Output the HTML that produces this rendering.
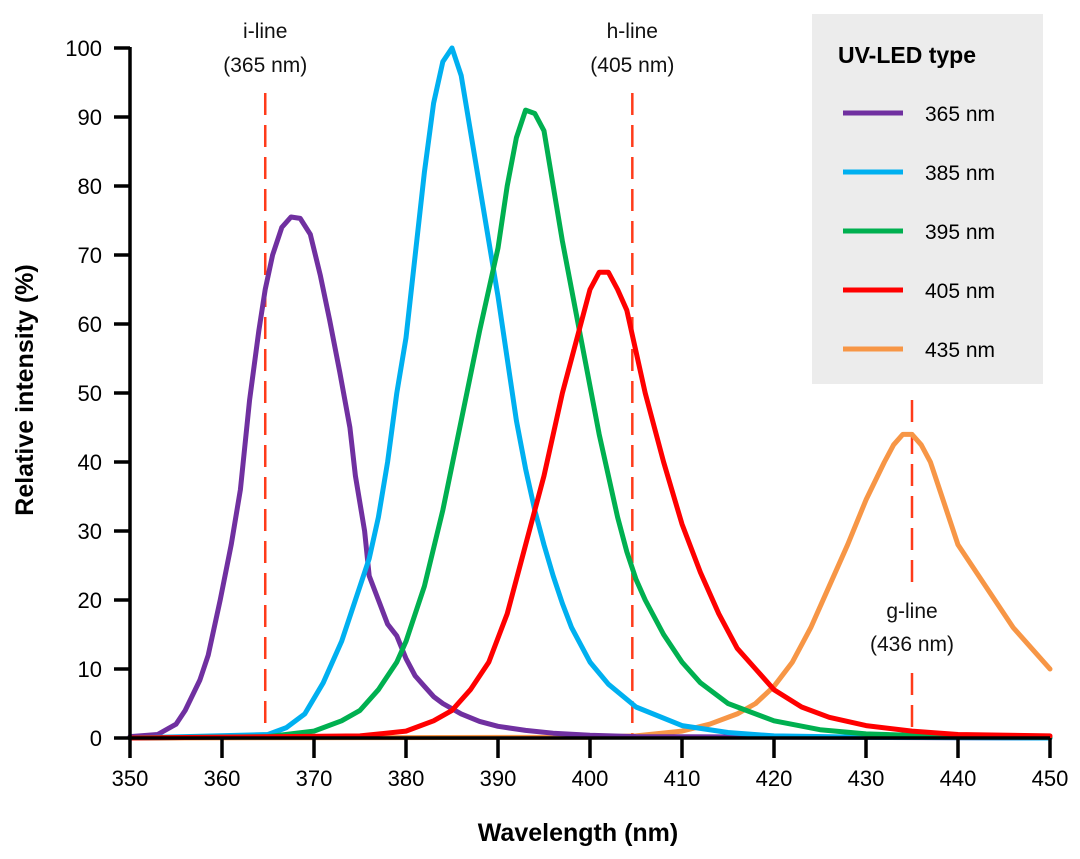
<!DOCTYPE html>
<html><head><meta charset="utf-8"><style>
html,body{margin:0;padding:0;background:#fff;}
svg{display:block;font-family:"Liberation Sans",sans-serif;}
</style></head><body>
<svg id="chart" width="1080" height="859" viewBox="0 0 1080 859" xmlns="http://www.w3.org/2000/svg">
<rect x="812" y="14" width="231" height="370" fill="#ececec"/>
<g id="grid"></g>
<g id="refs"></g>
<g id="series"></g>
<g id="axes"></g>
<g id="legend"></g>
<text x="578" y="841" text-anchor="middle" font-size="25" font-weight="bold">Wavelength (nm)</text>
<text transform="translate(33,390) rotate(-90)" text-anchor="middle" font-size="25" font-weight="bold">Relative intensity (%)</text>
</svg>
<script>
const xTicks=[350,360,370,380,390,400,410,420,430,440,450];
const yTicks=[0,10,20,30,40,50,60,70,80,90,100];
const seriesNames=["365 nm","385 nm","395 nm","405 nm","435 nm"];
const seriesColors=["#7030a0","#00b0f0","#00b050","#ff0000","#f79646"];
const wl365=[350,353,355,356,357.6,358.5,359.8,361,362,363,364,364.7,365.5,366.5,367.5,368.5,369.6,370.7,371.7,372.8,373.9,374.5,375,375.5,376,377,378,379,380,381,382,383,384,386,388,390,393,396,400,405,450];
const val365=[0.2,0.5,2,4,8.4,12,20,28,36,49,59,65,70,74,75.5,75.3,73,67,60.6,53,45,38,34,30,23.5,20,16.5,14.8,11.5,9,7.5,6,5,3.5,2.4,1.7,1.1,0.7,0.4,0.2,0];
const wl385=[350,365,367,369,371,373,374,375,376,377,378,379,380,381,382,383,384,385,386,387,388,389,390,391,392,393,394,395,396,397,398,400,402,405,410,415,420,430,450];
const val385=[0,0.5,1.5,3.5,8,14,18,22,26,32,40,50,58,70,82,92,98,100,96,88,80,72,64,55,46,39,33,28,23.5,19.5,16,11,7.8,4.5,1.8,0.8,0.3,0.1,0];
const wl395=[350,365,370,373,375,377,379,380,382,384,386,388,389,390,391,392,393,394,395,396,397,398,399,400,401,402,403,404,405,406,408,410,412,415,420,425,430,440,450];
const val395=[0,0.2,1,2.5,4,7,11,14,22,33,46,59,65,71,80,87,91,90.5,88,80,72,65,58,51,44,38,32,27,23,20,15,11,8,5,2.5,1.2,0.6,0.2,0.1];
const wl405=[350,375,380,383,385,387,389,391,393,395,397,399,400,401,402,403,404,405,406,408,410,412,414,416,418,420,423,426,430,435,440,450];
const val405=[0,0.3,1,2.5,4,7,11,18,28,38,50,60,65,67.5,67.5,65,62,56,50,40,31,24,18,13,10,7,4.5,3,1.8,1,0.5,0.3];
const wl435=[350,400,405,410,413,416,418,420,422,424,426,428,430,432,433,434,435,436,437,438,439,440,442,444,446,448,450];
const val435=[0,0.1,0.3,1,2,3.5,5,7.5,11,16,22,28,34.5,40,42.5,44,44,42.5,40,36,32,28,24,20,16,13,10];
const refLines=[364.7,404.6,435];
const NS="http://www.w3.org/2000/svg";
const X=v=>130+(v-350)*9.2;
const Y=v=>738-v*6.9;
function mk(tag,attrs,parent){const e=document.createElementNS(NS,tag);for(const k in attrs)e.setAttribute(k,attrs[k]);parent.appendChild(e);return e;}
const axes=document.getElementById('axes'),series=document.getElementById('series'),refs=document.getElementById('refs'),legend=document.getElementById('legend');
const red="#ff3b1a";
let r;
r=mk('line',{x1:X(refLines[0]),x2:X(refLines[0]),y1:93,y2:738,stroke:red,'stroke-width':2.5,'stroke-dasharray':'22,10'},refs);


r=mk('line',{x1:X(refLines[1]),x2:X(refLines[1]),y1:93,y2:738,stroke:red,'stroke-width':2.5,'stroke-dasharray':'22,10'},refs);


r=mk('line',{x1:X(refLines[2]),x2:X(refLines[2]),y1:400,y2:592,stroke:red,'stroke-width':2.5,'stroke-dasharray':'22,10'},refs);


r=mk('line',{x1:X(refLines[2]),x2:X(refLines[2]),y1:673,y2:738,stroke:red,'stroke-width':2.5,'stroke-dasharray':'22,10'},refs);


const lbls=[[X(refLines[0]),38,"i-line","i-line-label"],[X(refLines[0]),72,"(365 nm)","i-line-wavelength"],[X(refLines[1]),38,"h-line","h-line-label"],[X(refLines[1]),72,"(405 nm)","h-line-wavelength"],[X(refLines[2]),618,"g-line","g-line-label"],[X(refLines[2]),651,"(436 nm)","g-line-wavelength"]];
lbls.forEach(l=>{const t=mk('text',{x:l[0],y:l[1],'text-anchor':'middle','font-size':21,fill:'#111'},refs);t.textContent=l[2];

});
const data=[[wl365,val365],[wl385,val385],[wl395,val395],[wl405,val405],[wl435,val435]];
const order=[4,0,1,2,3];
order.forEach(i=>{const [w,v]=data[i];const pts=w.map((x,j)=>X(x).toFixed(1)+','+Y(v[j]).toFixed(1)).join(' ');
const p=mk('polyline',{points:pts,fill:'none',stroke:seriesColors[i],'stroke-width':5,'stroke-linejoin':'round','stroke-linecap':'round'},series);

});
let a=mk('line',{x1:130,x2:1050,y1:738,y2:738,stroke:'#000','stroke-width':3.5},axes);


a=mk('line',{x1:130,x2:130,y1:47,y2:739.5,stroke:'#000','stroke-width':3.5},axes);


xTicks.forEach(t=>{const tk=mk('line',{x1:X(t),x2:X(t),y1:738,y2:758,stroke:'#000','stroke-width':3.5},axes);


const tx=mk('text',{x:X(t),y:786,'text-anchor':'middle','font-size':22},axes);tx.textContent=t;

});
yTicks.forEach(t=>{const tk=mk('line',{x1:114,x2:130,y1:Y(t),y2:Y(t),stroke:'#000','stroke-width':3.5},axes);


const tx=mk('text',{x:102,y:Y(t)+8,'text-anchor':'end','font-size':22},axes);tx.textContent=t;

});
const lt=mk('text',{x:838,y:63,'font-size':23,'font-weight':'bold'},legend);lt.textContent="UV-LED type";


seriesNames.forEach((n,i)=>{const y=113+i*59;
const g=mk('g',{},legend);


mk('line',{x1:843,x2:903,y1:y,y2:y,stroke:seriesColors[i],'stroke-width':5},g);
const t=mk('text',{x:925,y:y+8,'font-size':21},g);t.textContent=n;});
</script>
</body></html>
